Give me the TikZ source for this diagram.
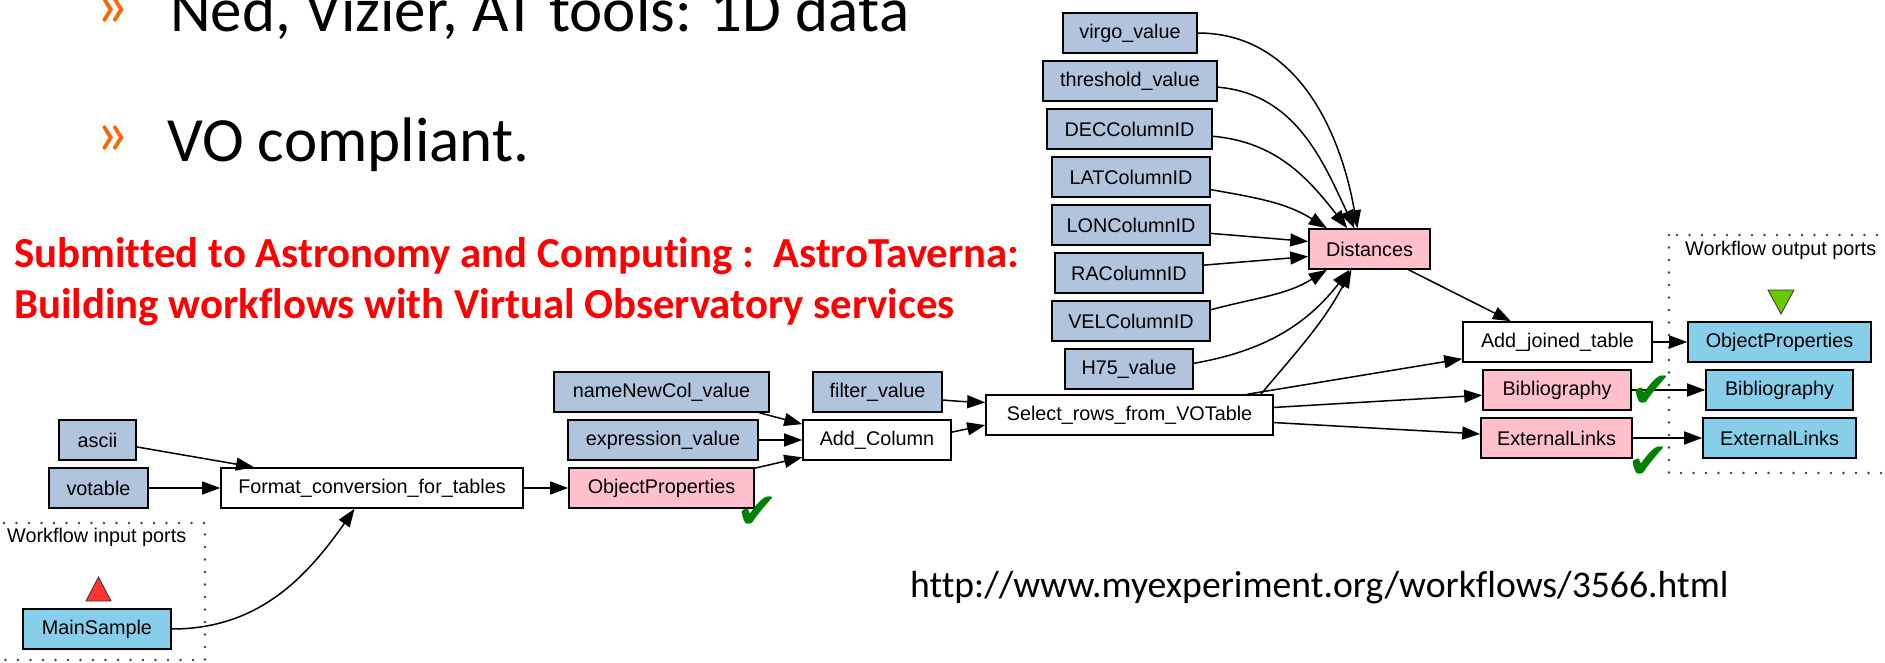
\documentclass[tikz,border=0pt]{standalone}
\usepackage{fontspec}
\setmainfont{Carlito}[Ligatures=NoCommon]
\newfontfamily\wffamily{Liberation Sans}
\newfontfamily\tickfam{DejaVu Sans}
\usetikzlibrary{arrows.meta,calc}

\definecolor{valblue}{HTML}{B0C4DE}
\definecolor{servpink}{HTML}{FFC0CB}
\definecolor{portblue}{HTML}{87CEEB}
\definecolor{tickgreen}{HTML}{008000}
\definecolor{bulletorange}{HTML}{FF6600}
\definecolor{intri}{HTML}{FF3333}
\definecolor{outtri}{HTML}{66CC00}

\newcommand{\wffont}{\wffamily\fontsize{19.8}{22}\selectfont}

\tikzset{
  wfbox/.style={draw=black,line width=1.6pt,minimum height=40pt,inner sep=0pt,font=\wffont},
  valbox/.style={wfbox,fill=valblue},
  procbox/.style={wfbox,fill=white},
  servbox/.style={wfbox,fill=servpink},
  portbox/.style={wfbox,fill=portblue},
  link/.style={line width=1.5pt,-{Triangle[length=18pt,width=13pt]}},
  portframe/.style={draw=black!75,line width=2.6pt,line cap=round,dash pattern=on 0pt off 12.5pt},
  tick/.style={text=tickgreen,inner sep=0pt,font=\tickfam\fontsize{50}{50}\selectfont},
  bulletmark/.style={text=bulletorange,inner sep=0pt,font=\fontsize{66}{66}\selectfont}
}

\begin{document}
\begin{tikzpicture}[x=1pt,y=1pt]

\useasboundingbox (0,0) rectangle (1885,-663);
\fill[white] (0,0) rectangle (1885,-663);

% slide text
\node[bulletmark] (bulA) at (112.5,-12.5) {»};
\node[bulletmark] (bulB) at (112.5,-140) {»};
\node[anchor=base west,inner sep=0pt,font=\fontsize{63}{63}\selectfont] (ned) at (170,-32) {Ned, Vizier, AT tools: 1D data};
\node[anchor=base west,inner sep=0pt,font=\fontsize{63}{63}\selectfont] (vo) at (167,-162) {VO compliant.};
\node[anchor=base west,inner sep=0pt,text=red,font=\bfseries\fontsize{42.8}{50}\selectfont] (subA) at (14,-268) {Submitted to Astronomy and Computing :\ \ AstroTaverna:};
\node[anchor=base west,inner sep=0pt,text=red,font=\bfseries\fontsize{42.8}{50}\selectfont] (subB) at (14,-318) {Building workflows with Virtual Observatory services};
\node[anchor=base west,inner sep=0pt,font=\fontsize{37.7}{40}\selectfont] (url) at (910,-597) {http://www.myexperiment.org/workflows/3566.html};

% port frames
\draw[portframe] (-20,-523) rectangle (205,-660);
\draw[portframe] (1669,-235) rectangle (1910,-473);
\node[anchor=west,inner sep=0pt,font=\wffont] (inlabel) at (7,-537) {Workflow input ports};
\node[anchor=west,inner sep=0pt,font=\wffont] (outlabel) at (1685,-250) {Workflow output ports};
\filldraw[fill=intri,draw=black!80,line width=0.8pt] (86,-601) -- (111,-601) -- (98.5,-577) -- cycle;
\filldraw[fill=outtri,draw=black!80,line width=0.8pt] (1768,-290) -- (1794,-290) -- (1781,-314) -- cycle;

% nodes
\node[valbox,minimum width=77pt] (ascii) at (97.5,-440) {ascii};
\node[valbox,minimum width=99pt] (votable) at (98.5,-488) {votable};
\node[portbox,minimum width=148pt] (mainsample) at (97,-629) {MainSample};
\node[procbox,minimum width=302pt] (fmtconv) at (372,-488) {Format\_conversion\_for\_tables};
\node[servbox,minimum width=185pt] (objprops) at (661.5,-488) {ObjectProperties};
\node[valbox,minimum width=215pt] (newcol) at (661.5,-392) {nameNewCol\_value};
\node[valbox,minimum width=190pt] (exprval) at (663,-440) {expression\_value};
\node[procbox,minimum width=148pt] (addcol) at (877,-440) {Add\_Column};
\node[valbox,minimum width=129pt] (filterval) at (877.5,-392) {filter\_value};
\node[procbox,minimum width=287pt] (selrows) at (1129.5,-415) {Select\_rows\_from\_VOTable};
\node[valbox,minimum width=134pt] (virgo) at (1130,-33) {virgo\_value};
\node[valbox,minimum width=174pt] (thresh) at (1130,-81) {threshold\_value};
\node[valbox,minimum width=165pt] (deccol) at (1129.5,-129) {DECColumnID};
\node[valbox,minimum width=158pt] (latcol) at (1131,-177) {LATColumnID};
\node[valbox,minimum width=158pt] (loncol) at (1131,-225) {LONColumnID};
\node[valbox,minimum width=148pt] (racol) at (1129,-273) {RAColumnID};
\node[valbox,minimum width=158pt] (velcol) at (1131,-321) {VELColumnID};
\node[valbox,minimum width=128pt] (hval) at (1129,-369) {H75\_value};
\node[servbox,minimum width=121pt] (dist) at (1369.5,-249) {Distances};
\node[procbox,minimum width=189pt] (addjoin) at (1557.5,-342) {Add\_joined\_table};
\node[servbox,minimum width=148pt] (biblio) at (1557,-390) {Bibliography};
\node[servbox,minimum width=151pt] (extlinks) at (1556.5,-438) {ExternalLinks};
\node[portbox,minimum width=183pt] (outobj) at (1779.5,-342) {ObjectProperties};
\node[portbox,minimum width=147pt] (outbib) at (1779.5,-390) {Bibliography};
\node[portbox,minimum width=153pt] (outext) at (1779.5,-438) {ExternalLinks};

% links
\draw[link] (ascii.-10) -- (fmtconv.170);
\draw[link] (votable.east) -- (fmtconv.west);
\draw[link] (mainsample.east) to[out=0,in=-125] (fmtconv.230);
\draw[link] (fmtconv.east) -- (objprops.west);
\draw[link] (newcol.-12) -- (addcol.168);
\draw[link] (exprval.east) -- (addcol.west);
\draw[link] (objprops.12) -- (addcol.193);
\draw[link] (filterval.-7) to[out=-5,in=178] (selrows.175);
\draw[link] (addcol.6) -- (selrows.184);
\draw[link] (virgo.east) to[out=0,in=100] (dist.120);
\draw[link] (thresh.-4) to[out=-5,in=115] (dist.126);
\draw[link] (deccol.-5) to[out=-5,in=128] (dist.137);
\draw[link] (latcol.-9) to[out=-10,in=148] (dist.154);
\draw[link] (loncol.-6) -- (dist.173);
\draw[link] (racol.6) -- (dist.187);
\draw[link] (velcol.8) to[out=15,in=-148] (dist.206);
\draw[link] (hval.5) to[out=10,in=-128] (dist.226);
\draw[link] (selrows.9) to[out=50,in=-118] (dist.229);
\draw[link] (selrows.10) -- (addjoin.190);
\draw[link] (dist.-28) -- (addjoin.156);
\draw[link] (selrows.3) -- (biblio.184);
\draw[link] (selrows.-3) -- (extlinks.177);
\draw[link] (addjoin.east) -- (outobj.west);
\draw[link] (biblio.east) -- (outbib.west);
\draw[link] (extlinks.east) -- (outext.west);

% ticks
\node[tick] (chkobj) at (757.5,-512.5) {✔};
\node[tick] (chkbib) at (1651,-391.5) {✔};
\node[tick] (chkext) at (1648,-463) {✔};

\end{tikzpicture}
\end{document}
